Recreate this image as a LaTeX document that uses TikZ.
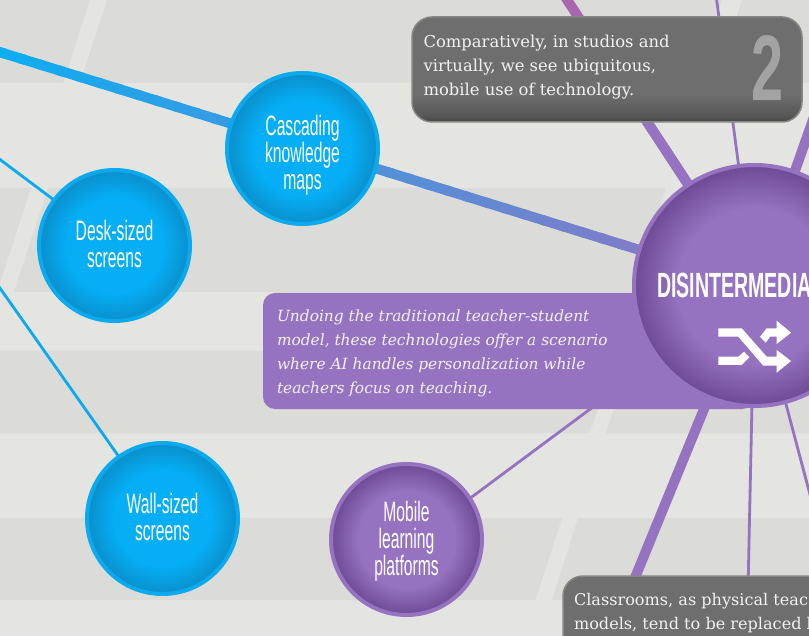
\documentclass[tikz,border=0pt]{standalone}
\usepackage{fontspec}
\usetikzlibrary{backgrounds,calc}
\setmainfont{DejaVu Serif}
\newfontfamily\bebas[FakeStretch=0.56]{Liberation Sans}
\newfontfamily\bebasbold[FakeStretch=0.56]{Liberation Sans Bold}
\newfontfamily\bebasdigit[FakeStretch=0.62]{Liberation Sans Bold}

\definecolor{basefill}{HTML}{E4E5E0}
\definecolor{banddark}{HTML}{DBDCD7}
\definecolor{linkblue}{HTML}{0BAEF3}
\definecolor{linkpurple}{HTML}{9673C0}
\definecolor{linkmagenta}{HTML}{A966AE}
\definecolor{ringblue}{HTML}{0BA9EE}
\definecolor{blueinner}{HTML}{05AEF5}
\definecolor{blueouter}{HTML}{0A8FCC}
\definecolor{purpleinner}{HTML}{9673C0}
\definecolor{purpleouter}{HTML}{6E4A96}
\definecolor{boxrim}{HTML}{868684}

\pgfdeclareradialshading{bluedisc}{\pgfpoint{0bp}{0bp}}{color(0bp)=(blueinner); color(16bp)=(blueinner); color(25bp)=(blueouter); color(50bp)=(blueouter)}
\pgfdeclareradialshading{purpledisc}{\pgfpoint{0bp}{0bp}}{color(0bp)=(purpleinner); color(16bp)=(purpleinner); color(25bp)=(purpleouter); color(50bp)=(purpleouter)}
\pgfdeclareverticalshading{graybox}{100bp}{color(0bp)=(black!72); color(25bp)=(black!72); color(28bp)=(black!66); color(38bp)=(black!57); color(100bp)=(black!57)}

\begin{document}
\begin{tikzpicture}[x=1pt, y=-1pt,
  every node/.style={inner sep=0pt, outer sep=0pt},
  bluenode/.style={circle, draw=ringblue, line width=4pt, shading=bluedisc, minimum size=151pt,
    text=white, align=center, font=\bebas\fontsize{28}{27}\selectfont},
  purplenode/.style={bluenode, draw=linkpurple, shading=purpledisc},
  graynote/.style={rounded corners=20pt, draw=boxrim, line width=1.5pt, shading=graybox},
  notetext/.style={text=white!95!black, align=left, anchor=west, font=\fontsize{16.4}{24}\selectfont},
  thicklink/.style={line width=10pt, draw=linkpurple},
  thinlink/.style={line width=2.8pt, draw=linkpurple},
  bluelink/.style={line width=2.8pt, draw=ringblue},
  band/.style={fill=banddark}
]
\useasboundingbox (0,0) rectangle (809,636);

% caixas
\fill[rounded corners=12pt, fill=linkpurple] (263,293) rectangle (754,409);
\node[notetext, font=\itshape\fontsize{15.4}{24}\selectfont] (undoing) at (277,353.5)
  {Undoing the traditional teacher-student\\ model, these technologies offer a scenario\\
   where AI handles personalization while\\ teachers focus on teaching.};
\path[graynote] (412,17) rectangle (802,122);
\node[notetext] (comparatively) at (423.5,67.5)
  {Comparatively, in studios and\\ virtually, we see ubiquitous,\\ mobile use of technology.};
\node[text=black!36, font=\bebasdigit\fontsize{93}{93}\selectfont] (two) at (768,68) {2};
\path[graynote] (563,576) rectangle (840,700);
\node[notetext, font=\fontsize{16.1}{24}\selectfont] (classrooms) at (574,613.5)
  {Classrooms, as physical teac\\ models, tend to be replaced b};

% circulos
\node[purplenode, minimum size=241pt] (disinter) at (754.5,285.5) {};
\node[text=white, anchor=west, font=\bebasbold\fontsize{35}{35}\selectfont] (disname) at (657,285) {DISINTERMEDIAT};
\node[bluenode, text depth=0pt] (cascading) at (302.5,148.5) {\rule{0pt}{28pt}Cascading\\ knowledge\\ maps};
\node[bluenode, text depth=3.4pt] (desk) at (114.5,245.5) {Desk-sized\\ screens};
\node[bluenode, text depth=3.9pt] (wall) at (162.5,518.5) {Wall-sized\\ screens};
\node[purplenode, text depth=1.9pt] (mobile) at (406.5,539.5) {Mobile\\ learning\\ platforms};

% icone
\fill[white] (718.3,328.3) -- (741.7,328.3) -- (766.7,356.7) -- (776.7,356.7) -- (776.7,350) -- (791,361)
  -- (776.7,372.7) -- (776.7,365.7) -- (763.3,365.7) -- (738.3,336.7) -- (718.3,336.7) -- cycle;
\fill[white] (718.3,356.7) -- (738.3,356.7) -- (744,351.7) -- (749.3,357.3) -- (741.7,365) -- (718.3,365) -- cycle;
\fill[white] (760,336.7) -- (766.7,328.3) -- (776.7,328.3) -- (776.7,320.7) -- (791,332.7) -- (776.7,344)
  -- (776.7,336.7) -- (770,336.7) -- (765.7,342.7) -- cycle;

\coordinate (cascstart) at (-20,46);
\coordinate (desklink) at (-10,152);
\coordinate (walllink) at (-10,274);
\coordinate (topthick) at (563.9,-5);
\coordinate (underbox) at (613,70);
\coordinate (topthin) at (716,-5);
\coordinate (rightthick) at (820,100);
\coordinate (downthick) at (630,590);
\coordinate (downthin) at (748,590);
\coordinate (rightthin) at (830,570);

\begin{scope}[on background layer]
  \fill[basefill] (0,0) rectangle (809,636);
  % faixas do fundo
  \fill[band] (0,0) -- (90,0) -- (63,83) -- (0,83) -- cycle;
  \fill[band] (107,0) -- (722,0) -- (695,83) -- (80,83) -- cycle;
  \fill[band] (742,0) -- (809,0) -- (809,83) -- (715,83) -- cycle;
  \fill[band] (0,188) -- (31,188) -- (0,283) -- cycle;
  \fill[band] (48,188) -- (666,188) -- (632,292) -- (14,292) -- cycle;
  \fill[band] (0,351) -- (617,351) -- (590,433) -- (0,433) -- cycle;
  \fill[band] (633,351) -- (809,351) -- (809,433) -- (606,433) -- cycle;
  \fill[band] (0,518) -- (562,518) -- (535.5,600) -- (0,600) -- cycle;
  \fill[band] (578,518) -- (809,518) -- (809,600) -- (552,600) -- cycle;

  % ligacoes
  \foreach \i in {0,...,39}{
    \pgfmathsetmacro{\p}{\i*2.5}
    \pgfmathsetmacro{\a}{\i/40}
    \pgfmathsetmacro{\b}{(\i+1.3)/40}
    \draw[thicklink, draw=linkpurple!\p!linkblue] ($(cascstart)!\a!(disinter)$) -- ($(cascstart)!\b!(disinter)$);
  }
  \draw[bluelink] (desklink) -- (desk);
  \draw[bluelink] (walllink) -- (wall);
  \draw[thinlink] ([yshift=-6pt]mobile.center) -- ([yshift=-1.5pt]disinter.center);
  \draw[thicklink, draw=linkmagenta] (disinter) -- (topthick);
  \draw[thicklink] (disinter) -- (underbox);
  \draw[thinlink] (disinter) -- (topthin);
  \draw[thicklink] (disinter) -- (rightthick);
  \draw[thicklink] (disinter) -- (downthick);
  \draw[thinlink] (disinter) -- (downthin);
  \draw[thinlink] (disinter) -- (rightthin);
\end{scope}
\end{tikzpicture}
\end{document}
